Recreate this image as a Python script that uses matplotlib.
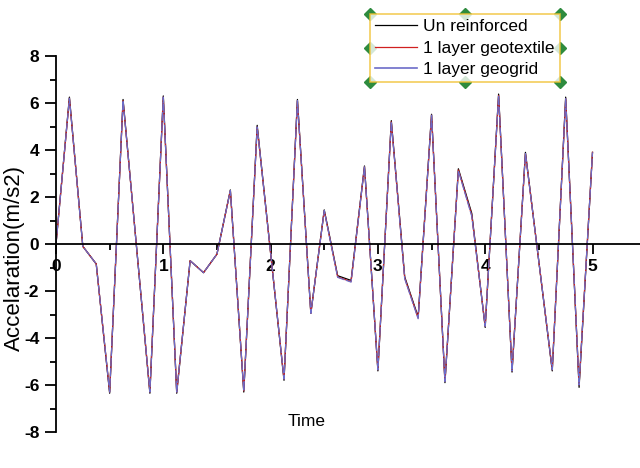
import matplotlib.pyplot as plt
import numpy as np
from matplotlib.lines import Line2D

plt.rcParams['font.family'] = ['Liberation Sans', 'DejaVu Sans']
plt.rcParams['axes.unicode_minus'] = False

# time step 0.125 s
time = np.arange(41) * 0.125
unreinforced = [0.0, 6.25, -0.1, -0.85, -6.35, 6.15, -0.1, -6.35, 6.3, -6.35,
                -0.71, -1.22, -0.43, 2.3, -6.3, 5.05, -0.38, -5.8, 6.15, -2.95,
                1.45, -1.35, -1.55, 3.32, -5.4, 5.25, -1.4, -3.1, 5.52, -5.9,
                3.2, 1.3, -3.55, 6.38, -5.45, 3.9, -0.75, -5.4, 6.25, -6.1, 3.9]
geotextile = [0.0, 6.2, -0.1, -0.85, -6.3, 6.1, -0.1, -6.3, 6.25, -6.3,
              -0.71, -1.22, -0.43, 2.27, -6.25, 4.98, -0.38, -5.75, 6.1, -2.95,
              1.42, -1.4, -1.6, 3.28, -5.35, 5.2, -1.45, -3.15, 5.48, -5.85,
              3.15, 1.22, -3.5, 6.32, -5.4, 3.85, -0.75, -5.35, 6.18, -6.0, 3.9]
geogrid = [0.0, 6.2, -0.1, -0.85, -6.3, 6.1, -0.1, -6.3, 6.25, -6.3,
           -0.71, -1.22, -0.43, 2.27, -6.25, 4.98, -0.38, -5.75, 6.1, -2.95,
           1.42, -1.42, -1.62, 3.28, -5.35, 5.2, -1.48, -3.18, 5.48, -5.85,
           3.12, 1.18, -3.5, 6.32, -5.4, 3.85, -0.75, -5.35, 6.18, -6.0, 3.9]
labels = ['Un reinforced', '1 layer geotextile', '1 layer geogrid']

fig = plt.figure(figsize=(6.4, 4.68), dpi=100)
ax = fig.add_axes([56 / 640, 36 / 468, 584 / 640, 376 / 468])

ax.plot(time, unreinforced, color='black', lw=0.9)
ax.plot(time, geotextile, color='#d02020', lw=0.9)
ax.plot(time, geogrid, color='#6c6cc8', lw=0.9, ls=(0, (7, 1.2)))
# legend handles drawn solid
handles = [Line2D([], [], color='black', lw=0.9),
           Line2D([], [], color='#d02020', lw=0.9),
           Line2D([], [], color='#6c6cc8', lw=1.2)]

ax.set_xlim(0, 584 / 107.3)
ax.set_ylim(-8, 8)
ax.spines['top'].set_visible(False)
ax.spines['right'].set_visible(False)
ax.spines['bottom'].set_position(('data', 0))
ax.spines['left'].set_linewidth(1.3)
ax.spines['bottom'].set_linewidth(1.3)

ax.set_xticks([0, 1, 2, 3, 4, 5])
ax.set_xticks([0.5, 1.5, 2.5, 3.5, 4.5], minor=True)
ax.set_yticks([-8, -6, -4, -2, 0, 2, 4, 6, 8])
ax.set_yticks([-7, -5, -3, -1, 1, 3, 5, 7], minor=True)
ax.tick_params(axis='x', direction='out', length=7, width=1.3, pad=4, labelsize=12.5)
ax.tick_params(axis='both', which='minor', direction='out', length=4, width=1.3)
ax.tick_params(axis='y', direction='out', length=8, width=1.3, pad=4, labelsize=12.5)
for t in ax.get_xticklabels() + ax.get_yticklabels():
    t.set_fontweight('bold')

fig.text(14 / 640, 1 - 258 / 468, 'Accelaration(m/s2)', rotation=90,
         ha='center', va='center', fontsize=16)
fig.text(307 / 640, 1 - 421 / 468, 'Time', ha='center', va='center', fontsize=12.5)

leg = fig.legend(handles, labels, loc='upper left',
                 bbox_to_anchor=(370 / 640, 1 - 14 / 468),
                 fontsize=12.5, frameon=True, fancybox=False, borderpad=0.3,
                 handlelength=2.4, handletextpad=0.35, labelspacing=0.36,
                 borderaxespad=0)
leg.get_frame().set_edgecolor('#f0c030')
leg.get_frame().set_linewidth(1.2)

# selection handles round the legend box
fig.canvas.draw()
bb = leg.get_frame().get_window_extent().transformed(fig.transFigure.inverted())
xs = [bb.x0, (bb.x0 + bb.x1) / 2, bb.x1]
ys = [bb.y0, (bb.y0 + bb.y1) / 2, bb.y1]
for xx in xs:
    for yy in ys:
        if xx == xs[1] and yy == ys[1]:
            continue
        fig.add_artist(Line2D([xx], [yy], marker='D', color='#2e8b3e', ms=6,
                              transform=fig.transFigure))

fig.savefig('out.png', dpi=100)
